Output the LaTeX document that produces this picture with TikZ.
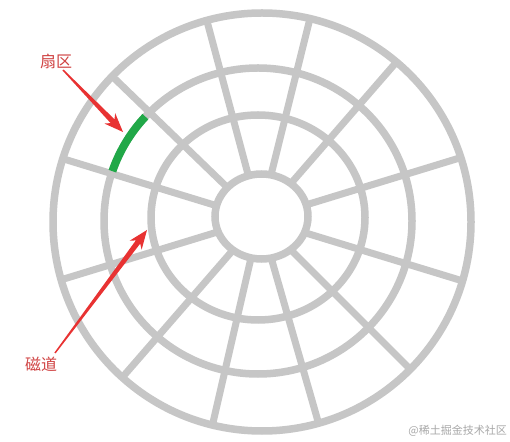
\documentclass[tikz,border=0pt]{standalone}
\usepackage{fontspec}
\newfontfamily\cjk{Noto Sans CJK SC}
\usetikzlibrary{calc}
\definecolor{diskgray}{RGB}{198,198,198}
\definecolor{sectgreen}{RGB}{33,168,72}
\definecolor{arrowred}{RGB}{232,50,50}
\definecolor{labelred}{RGB}{208,66,66}
\definecolor{markgray}{RGB}{168,168,168}
\newcommand\redarrow[2]{%
  \coordinate (h) at ($(#2)!15pt!(#1)$);
  \coordinate (hb) at ($(#2)!19pt!(#1)$);
  \fill[arrowred] ($(#1)!0.7pt!90:(#2)$) -- ($(h)!2.7pt!90:(#2)$) -- ($(hb)!7.5pt!90:(#2)$) -- (#2)
    -- ($(hb)!7.5pt!-90:(#2)$) -- ($(h)!2.7pt!-90:(#2)$) -- ($(#1)!0.7pt!-90:(#2)$) -- cycle;}
\begin{document}
\begin{tikzpicture}[x=1pt,y=1pt,
  track/.style={draw=diskgray,line width=7.5pt},
  spoke/.style={draw=diskgray,line width=7pt},
  lab/.style={text=labelred,font=\cjk\fontsize{16}{16}\selectfont,inner sep=0pt}]
\fill[white] (0,0) rectangle (510,441);
\useasboundingbox (0,0) rectangle (510,441);
\coordinate (c) at (260,222);
\begin{scope}
  \clip (262,219) ellipse [x radius=209, y radius=209];
  \foreach \a in {17,49,76,105,136,163,197,229,257,286,315,343}
    \draw[spoke] (c) ++(\a:30) -- ++(\a:200);
\end{scope}
\fill[white] (261.5,224.5) ellipse [x radius=46.5, y radius=42.5];
\draw[track] (261.5,224.5) ellipse [x radius=46.5, y radius=42.5];
\draw[track] (258,223.5) ellipse [x radius=107, y radius=102.5];
\draw[track] (258,220) ellipse [x radius=154, y radius=153];
\draw[track] (262,219) ellipse [x radius=209, y radius=209];
\draw[sectgreen,line width=8pt] ($(258,220)+(137:154 and 153)$) arc[start angle=137,end angle=161,x radius=154,y radius=153];
\node[lab] (sec) at (56,380) {扇区};
\node[lab] (trk) at (41,77) {磁道};
\coordinate (s1) at (63,371);
\coordinate (e1) at (123,309);
\coordinate (s2) at (55,88);
\coordinate (e2) at (147,211);
\redarrow{s1}{e1}
\redarrow{s2}{e2}
\node[text=markgray,font=\cjk\fontsize{11}{11}\selectfont,anchor=east,inner sep=0pt] (wm) at (507,10) {@稀土掘金技术社区};
\end{tikzpicture}
\end{document}
